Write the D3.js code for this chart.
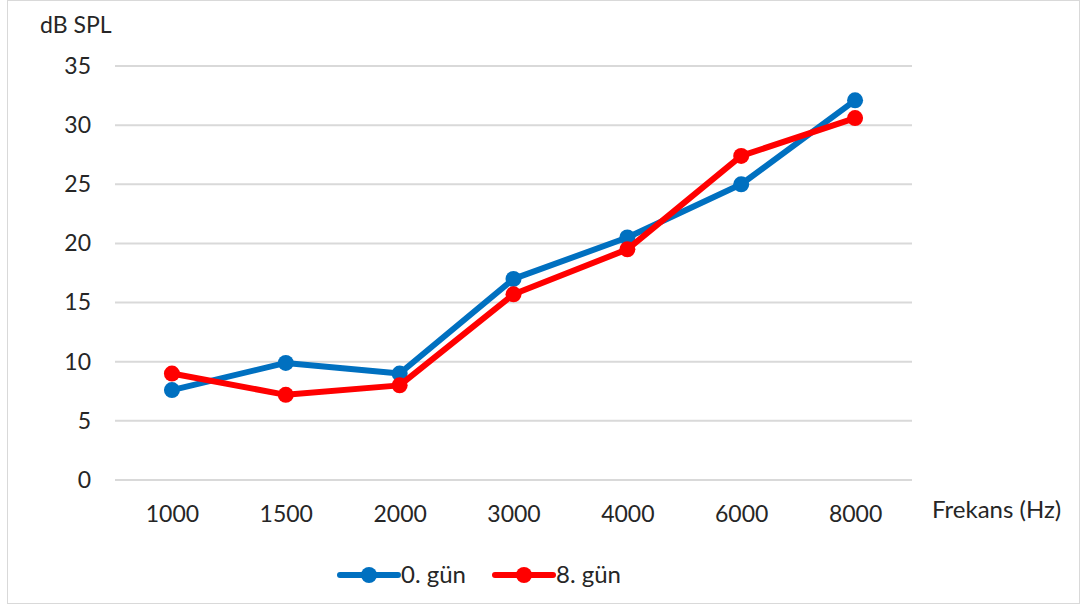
<!DOCTYPE html>
<html>
<head>
<meta charset="utf-8">
<script src="https://cdn.jsdelivr.net/npm/d3@7"></script>
<style>
  html, body { margin: 0; padding: 0; background: #fff; }
  svg { display: block; }
  text { font-family: Lato, "Open Sans", sans-serif; fill: #262626; }
</style>
</head>
<body>
<svg id="chart" width="1084" height="606"></svg>
<script>
// Hearing thresholds by frequency, day 0 vs day 8
const frequencies = ["1000", "1500", "2000", "3000", "4000", "6000", "8000"];
const day0 = [7.6, 9.9, 9.0, 17.0, 20.5, 25.0, 32.1];
const day8 = [9.0, 7.2, 8.0, 15.7, 19.5, 27.4, 30.6];
const yTicks = [0, 5, 10, 15, 20, 25, 30, 35];
const seriesNames = ["0. gün", "8. gün"];
const seriesColors = ["#0070C0", "#FF0000"];

const FONT = "23px";
const svg = d3.select("#chart");

// outer frame
svg.append("rect")
  .attr("x", 7.5).attr("y", 0.5)
  .attr("width", 1072).attr("height", 603)
  .attr("fill", "#fff").attr("stroke", "#d9d9d9").attr("stroke-width", 1);

const plot = { left: 115, right: 912, top: 66, bottom: 480 };

const x = d3.scalePoint()
  .domain(frequencies)
  .range([plot.left, plot.right])
  .padding(0.5);

const y = d3.scaleLinear()
  .domain([0, 35])
  .range([plot.bottom, plot.top]);

// horizontal gridlines
svg.append("g")
  .selectAll("line")
  .data(yTicks)
  .join("line")
  .attr("x1", plot.left).attr("x2", plot.right)
  .attr("y1", d => y(d)).attr("y2", d => y(d))
  .attr("stroke", "#d9d9d9").attr("stroke-width", 2);

// y axis labels
const yAxis = d3.axisLeft(y).tickValues(yTicks).tickSize(0).tickPadding(0);
svg.append("g")
  .attr("transform", `translate(${plot.left - 24},0)`)
  .call(yAxis)
  .call(g => g.select(".domain").remove())
  .selectAll("text")
  .style("font-family", "Lato, 'Open Sans', sans-serif")
  .style("font-size", FONT)
  .attr("fill", "#262626");

// x axis labels
const xAxis = d3.axisBottom(x).tickSize(0).tickPadding(0);
svg.append("g")
  .attr("transform", `translate(0,${plot.bottom + 26})`)
  .call(xAxis)
  .call(g => g.select(".domain").remove())
  .selectAll("text")
  .style("font-family", "Lato, 'Open Sans', sans-serif")
  .style("font-size", FONT)
  .attr("fill", "#262626");

// axis titles
svg.append("text")
  .attr("x", 40).attr("y", 33)
  .style("font-size", FONT)
  .text("dB SPL");

svg.append("text")
  .attr("x", 932).attr("y", 518)
  .style("font-size", "24px")
  .text("Frekans (Hz)");

// series
const series = [day0, day8];
const line = d3.line()
  .x((d, i) => x(frequencies[i]))
  .y(d => y(d));

series.forEach((vals, s) => {
  const g = svg.append("g");
  g.append("path")
    .datum(vals)
    .attr("d", line)
    .attr("fill", "none")
    .attr("stroke", seriesColors[s])
    .attr("stroke-width", 6)
    .attr("stroke-linejoin", "round");
  g.selectAll("circle")
    .data(vals)
    .join("circle")
    .attr("cx", (d, i) => x(frequencies[i]))
    .attr("cy", d => y(d))
    .attr("r", 8)
    .attr("fill", seriesColors[s]);
});

// legend
const legendX = [338, 493];
seriesNames.forEach((name, i) => {
  const g = svg.append("g").attr("transform", `translate(${legendX[i]},575)`);
  g.append("line")
    .attr("x1", 2).attr("x2", 60)
    .attr("y1", 0).attr("y2", 0)
    .attr("stroke", seriesColors[i]).attr("stroke-width", 6)
    .attr("stroke-linecap", "round");
  g.append("circle")
    .attr("cx", 31).attr("cy", 0).attr("r", 8)
    .attr("fill", seriesColors[i]);
  g.append("text")
    .attr("x", 63).attr("y", 8)
    .style("font-size", "24px")
    .text(name);
});
</script>
</body>
</html>
